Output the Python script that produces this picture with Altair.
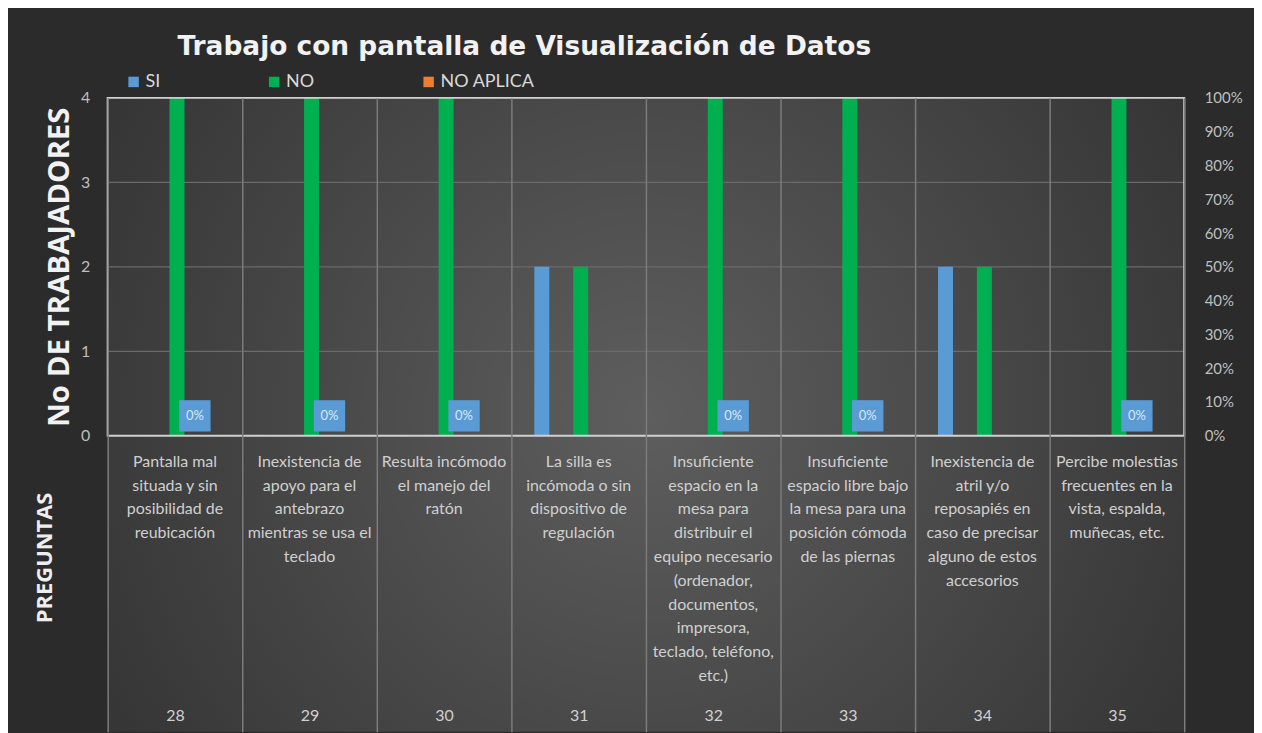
import altair as alt
import pandas as pd

# ---------------- data ----------------
numeros = ["28", "29", "30", "31", "32", "33", "34", "35"]
preguntas = [
    ["Pantalla mal", "situada y sin", "posibilidad de", "reubicación"],
    ["Inexistencia de", "apoyo para el", "antebrazo", "mientras se usa el", "teclado"],
    ["Resulta incómodo", "el manejo del", "ratón"],
    ["La silla es", "incómoda o sin", "dispositivo de", "regulación"],
    ["Insuficiente", "espacio en la", "mesa para", "distribuir el", "equipo necesario",
     "(ordenador,", "documentos,", "impresora,", "teclado, teléfono,", "etc.)"],
    ["Insuficiente", "espacio libre bajo", "la mesa para una", "posición cómoda", "de las piernas"],
    ["Inexistencia de", "atril y/o", "reposapiés en", "caso de precisar", "alguno de estos", "accesorios"],
    ["Percibe molestias", "frecuentes en la", "vista, espalda,", "muñecas, etc."],
]
series = ["SI", "NO", "NO APLICA"]
valores_si = [0, 0, 0, 2, 0, 0, 2, 0]
valores_no = [4, 4, 4, 2, 4, 4, 2, 4]
valores_na = [0, 0, 0, 0, 0, 0, 0, 0]
etiqueta_pct = [0, 0, 0, None, 0, 0, None, 0]
colores = ["#5b9bd5", "#00b050", "#ed7d31"]
marcas_y = [0, 1, 2, 3, 4]
marcas_pct = [0.0, 0.1, 0.2, 0.3, 0.4, 0.5, 0.6, 0.7, 0.8, 0.9, 1.0]
titulo_txt = "Trabajo con pantalla de Visualización de Datos"

rows = []
for serie, vals in zip(series, [valores_si, valores_no, valores_na]):
    for cat, v in zip(numeros, vals):
        rows.append({"categoria": cat, "serie": serie, "valor": v})
df_barras = pd.DataFrame(rows)
df_preg = pd.DataFrame({"categoria": numeros, "texto": ["|".join(p) for p in preguntas],
                        "base": [marcas_y[0]] * len(numeros)})
df_pct = pd.DataFrame([{"categoria": c, "pct": p} for c, p in zip(numeros, etiqueta_pct) if p is not None])
df_grid = pd.DataFrame({"y": marcas_y[1:-1]})
df_borde = pd.DataFrame([{"arriba": marcas_y[-1], "abajo": marcas_y[0]}])
df_uno = pd.DataFrame([{"t": titulo_txt}])

# ---------------- layout ----------------
W, H = 1080, 636
PLOT_H = 339

def escala_n():
    return alt.Scale(domain=[marcas_y[0], marcas_y[-1]], range=[PLOT_H, 0], nice=False)

escala_p = alt.Scale(domain=[0, 1], range=[PLOT_H, 0], nice=False)
escala_x = alt.Scale(domain=numeros, paddingInner=0, paddingOuter=0)

eje_x = alt.Axis(
    title="PREGUNTAS", orient="bottom", offset=-H, domain=False, grid=False,
    ticks=True, tickSize=H, tickColor="#7c7c7c", tickWidth=1.5, tickBand="extent",
    labelAngle=0, labelAlign="center", labelBaseline="top",
    labelPadding=-H + 612, labelFont="Lato", labelFontSize=16, labelColor="#d0d0d0",
    labelOverlap=False,
    titleX=-63, titleY=461, titleAngle=270, titleAlign="center", titleBaseline="middle",
    titleFont="Open Sans", titleFontSize=22, titleFontWeight="bold", titleColor="#eeeeee",
    zindex=1,
)
eje_izq = alt.Axis(
    title="No DE TRABAJADORES", orient="left", values=marcas_y, grid=False, ticks=False, domain=False,
    labelFont="Lato", labelFontSize=16, labelColor="#bfbfbf", labelPadding=18,
    titleX=-48, titleY=PLOT_H / 2, titleAngle=270, titleAlign="center", titleBaseline="middle",
    titleFont="Open Sans", titleFontSize=29.5, titleFontWeight="bold", titleColor="#f2f2f2",
    zindex=1,
)
eje_der = alt.Axis(
    title=None, orient="right", values=marcas_pct, format=".0%", grid=False, ticks=False, domain=False,
    labelFont="Lato", labelFontSize=15, labelColor="#bfbfbf", labelPadding=20, labelAlign="left",
    zindex=1,
)

X = alt.X("categoria:N", scale=escala_x, axis=eje_x)

fondo = alt.Chart(df_uno).mark_rect(
    color={"gradient": "radial", "x1": 0.5, "y1": 0.5, "r1": 0, "x2": 0.5, "y2": 0.5, "r2": 0.72,
           "stops": [{"offset": 0, "color": "#5e5e5e"}, {"offset": 1, "color": "#2b2b2b"}]}
).encode(x=alt.value(0), x2=alt.value("width"), y=alt.value(0), y2=alt.value("height"))

rejilla = alt.Chart(df_grid).mark_rule(color="#6a6a6a", strokeWidth=1.2).encode(
    y=alt.Y("y:Q", scale=escala_n(), axis=None), x=alt.value(0), x2=alt.value("width"))

barras = alt.Chart(df_barras).mark_bar(width=alt.RelativeBandSize(0.385)).encode(
    x=X,
    xOffset=alt.XOffset("serie:N", scale=alt.Scale(domain=series, range=[-18.5, 98.5],
                                                   paddingInner=0, paddingOuter=0)),
    y=alt.Y("valor:Q", scale=escala_n(), axis=eje_izq),
    color=alt.Color("serie:N", scale=alt.Scale(domain=series, range=colores),
                    legend=alt.Legend(title=None, orient="none", legendX=17, legendY=-25,
                                      direction="horizontal", columns=3, symbolType="square",
                                      symbolSize=110, symbolStrokeWidth=0, labelFont="Lato",
                                      labelFontSize=18, labelColor="#d9d9d9", columnPadding=105,
                                      gridAlign="none", labelOffset=3)),
)

preg = alt.Chart(df_preg).mark_text(
    lineBreak="|", lineHeight=23.9, baseline="top", align="center", yOffset=18,
    font="Lato", fontSize=16, color="#d0d0d0"
).encode(x=X, y=alt.Y("base:Q", scale=escala_n(), axis=None), text="texto:N")

borde = alt.Chart(df_borde).mark_rect(filled=False, stroke="#d0d0d0", strokeWidth=2).encode(
    x=alt.value(0), x2=alt.value("width"),
    y=alt.Y("arriba:Q", scale=escala_n(), axis=None), y2="abajo:Q")

caja = alt.Chart(df_pct).mark_square(size=990, xOffset=20, yOffset=-20, color="#5b9bd5", opacity=1).encode(
    x=X, y=alt.Y("pct:Q", scale=escala_p, axis=eje_der))
texto = alt.Chart(df_pct).mark_text(xOffset=20, yOffset=-20, font="Lato", fontSize=13, color="#dce8f6").encode(
    x=X, y=alt.Y("pct:Q", scale=escala_p, axis=None), text=alt.Text("pct:Q", format=".0%"))

titulo = alt.Chart(df_uno).mark_text(
    align="left", baseline="alphabetic", font="DejaVu Sans", fontSize=26.5, fontWeight="bold", color="#f2f2f2"
).encode(x=alt.value(70), y=alt.value(-43), text="t:N")

chart = alt.layer(fondo, rejilla, barras, preg, borde, caja, texto, titulo).resolve_scale(
    y="independent").properties(
    width=W, height=H,
    autosize=alt.AutoSizeParams(type="none"),
    padding={"left": 100, "top": 89, "right": 70, "bottom": 0},
    background="#2b2b2b",
).configure_view(stroke=None)

chart.save("out.html", embed_options={"renderer": "svg", "actions": False})
